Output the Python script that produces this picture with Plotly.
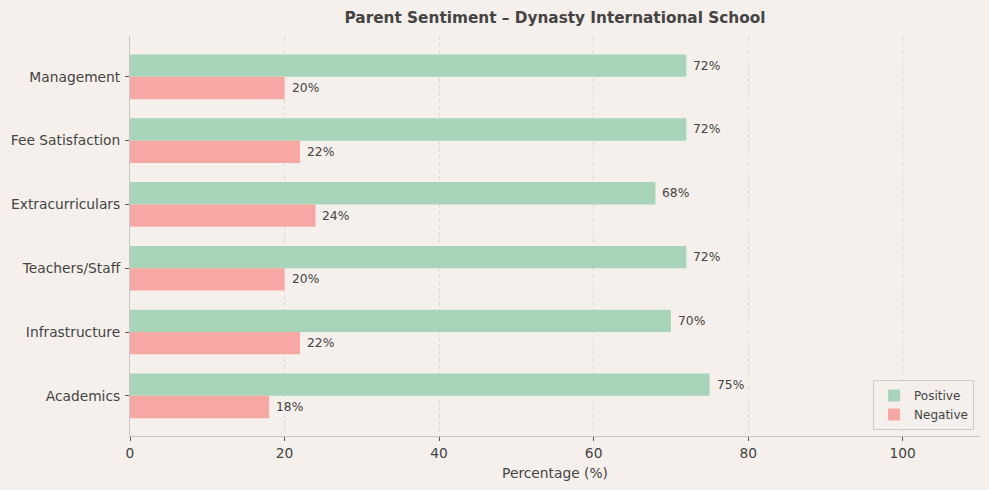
import plotly.graph_objects as go

categories = ["Academics", "Infrastructure", "Teachers/Staff", "Extracurriculars", "Fee Satisfaction", "Management"]
positive = [75, 70, 72, 68, 72, 72]
negative = [18, 22, 20, 24, 22, 20]

GREEN = "#a8d5ba"
PINK = "#f7a8a4"
BG = "#f5f0eb"
TEXT = "#444444"
FONT = "DejaVu Sans"
BAR_W = 0.35

fig = go.Figure()
fig.add_trace(go.Bar(
    y=categories, x=positive, orientation="h", name="Positive",
    marker=dict(color=GREEN, line=dict(width=0)), offset=0, width=BAR_W,
))
fig.add_trace(go.Bar(
    y=categories, x=negative, orientation="h", name="Negative",
    marker=dict(color=PINK, line=dict(width=0)), offset=-BAR_W, width=BAR_W,
))

# value labels next to each bar end
annotations = []
for i, (p, n) in enumerate(zip(positive, negative)):
    for val, dy in ((p, BAR_W / 2), (n, -BAR_W / 2)):
        annotations.append(dict(
            x=val, y=i + dy, xref="x", yref="y", text=f"{val}%",
            showarrow=False, xanchor="left", yanchor="middle", xshift=5,
            font=dict(family=FONT, size=12.3, color=TEXT),
        ))

fig.update_layout(
    width=989, height=490,
    barmode="overlay",
    paper_bgcolor=BG, plot_bgcolor=BG,
    font=dict(family=FONT, size=13.8, color=TEXT),
    margin=dict(l=130, r=9, t=36, b=54),
    title=dict(
        text="<b>Parent Sentiment – Dynasty International School</b>",
        x=0.5, xref="paper", xanchor="center", y=0.965, yanchor="middle",
        font=dict(family=FONT, size=15.3, color=TEXT),
    ),
    legend=dict(
        x=0.993, y=0.015, xanchor="right", yanchor="bottom",
        bgcolor="rgba(245,240,235,0.85)", bordercolor="#cccccc", borderwidth=1,
        font=dict(family=FONT, size=12, color=TEXT),
        tracegroupgap=0,
    ),
    annotations=annotations,
    showlegend=True,
)
fig.update_xaxes(
    range=[0, 110], tickvals=[0, 20, 40, 60, 80, 100],
    showgrid=True, gridcolor="#dedad6", griddash="4px,3px", gridwidth=1,
    zeroline=False, showline=True, linecolor="#c8c8c8", linewidth=1,
    ticks="outside", ticklen=4, tickcolor="#555555",
    title=dict(text="Percentage (%)", font=dict(family=FONT, size=13.8, color=TEXT), standoff=8),
    tickfont=dict(family=FONT, size=13.8, color=TEXT),
)
fig.update_yaxes(
    type="category", categoryorder="array", categoryarray=categories,
    range=[-0.63, 5.64], showgrid=False, zeroline=False,
    showline=True, linecolor="#c8c8c8", linewidth=1,
    ticks="outside", ticklen=4, tickcolor="#555555", ticklabelstandoff=2,
    tickfont=dict(family=FONT, size=13.8, color=TEXT),
)

fig.write_html(
    "out.html",
    config={"displayModeBar": False},
    post_script="document.body.style.margin='0';",
)
